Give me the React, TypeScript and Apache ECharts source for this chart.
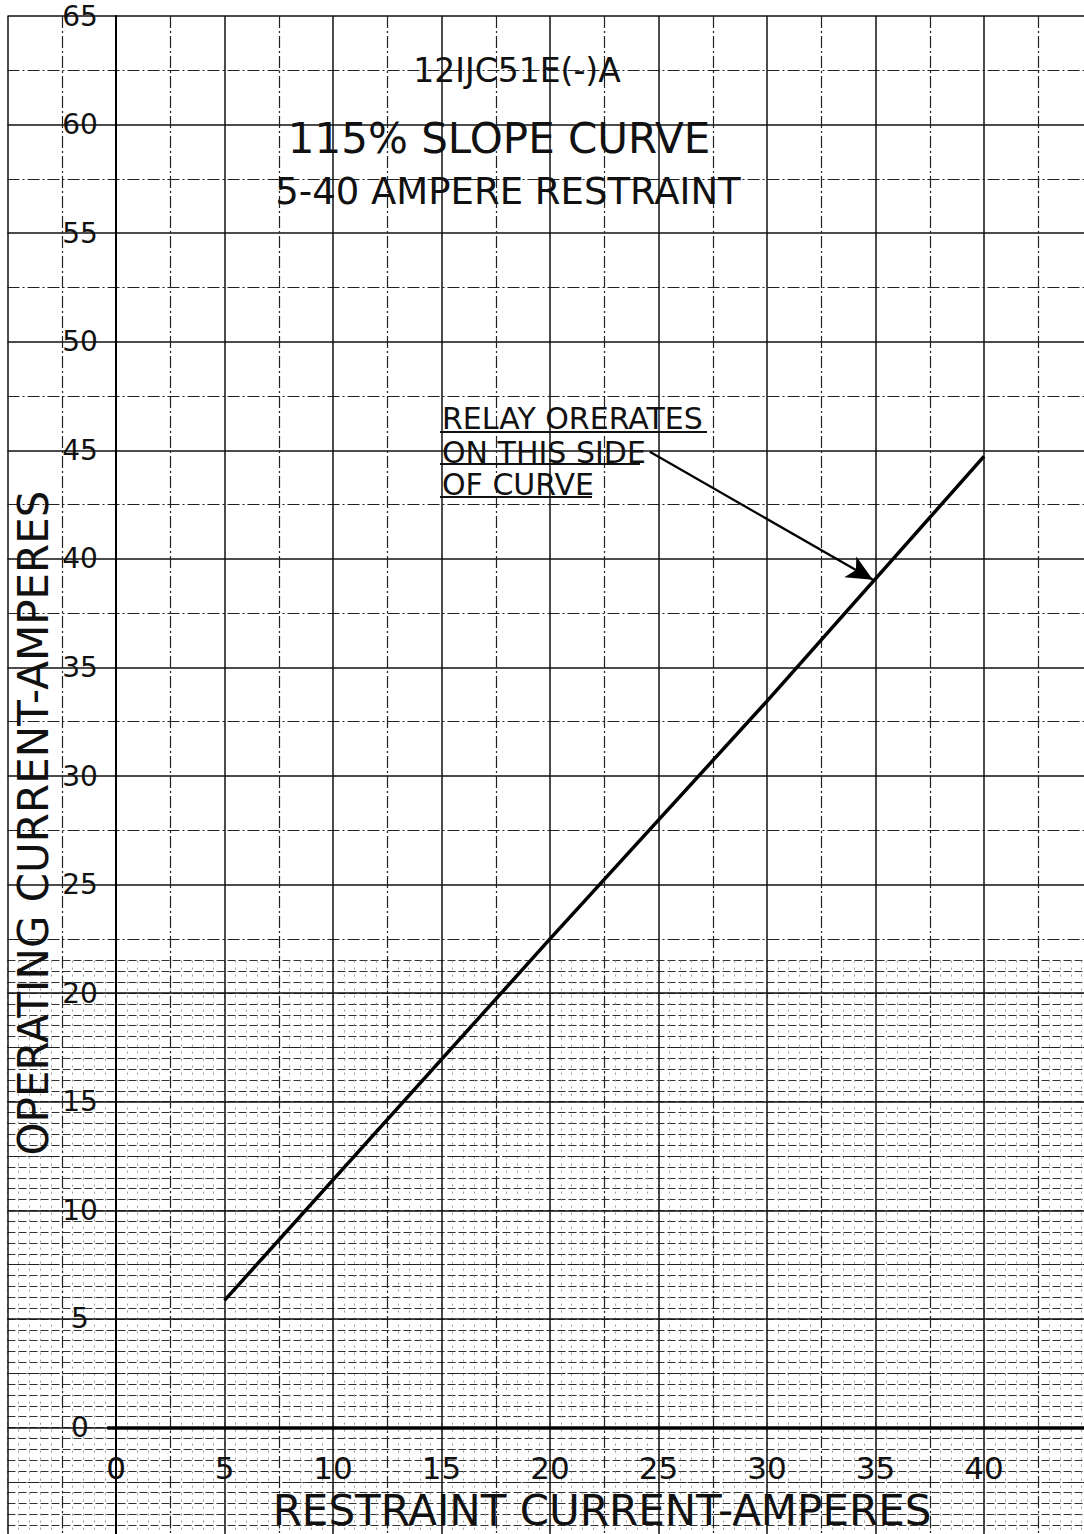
import React, { useEffect, useRef } from "react";
import * as echarts from "echarts";

const FONT = "DejaVu Sans";

const X_TICKS = [0, 5, 10, 15, 20, 25, 30, 35, 40];
const Y_TICKS = [0, 5, 10, 15, 20, 25, 30, 35, 40, 45, 50, 55, 60, 65];

const CURVE_X = [5, 20, 30, 40];
const CURVE_Y = [5.85, 22.5, 33.45, 44.72];

const TITLE_LINES = ["12IJC51E(-)A", "115% SLOPE CURVE", "5-40 AMPERE RESTRAINT"];
const NOTE_LINES = ["RELAY ORERATES", "ON THIS SIDE", "OF CURVE"];
const X_NAME = "RESTRAINT CURRENT-AMPERES";
const Y_NAME = "OPERATING CURRENT-AMPERES";

const ARROW_FROM = [24.6, 44.93];
const ARROW_TO = [34.88, 39.04];

export default function App() {
  const ref = useRef<HTMLDivElement>(null);

  useEffect(() => {
    if (!ref.current) return;
    const chart = echarts.init(ref.current, null, { renderer: "svg" });

    const xFmt = (v: number) => (X_TICKS.indexOf(v) >= 0 ? String(v) : "");
    const yFmt = (v: number) => (Y_TICKS.indexOf(v) >= 0 ? String(v) : "");

    const titleSpecs = [
      { y: 70, x: 517, size: 33 },
      { y: 138, x: 499, size: 42 },
      { y: 191, x: 508, size: 37 },
    ];
    const noteY = [418, 452, 484];
    const underline = [
      { y: 432, x2: 707 },
      { y: 464, x2: 640 },
      { y: 497, x2: 592 },
    ];

    const graphic: any[] = [];
    TITLE_LINES.forEach((t, i) => {
      graphic.push({
        type: "text",
        z: 20,
        x: titleSpecs[i].x,
        y: titleSpecs[i].y,
        style: {
          text: t,
          fill: "#111",
          fontFamily: FONT,
          fontSize: titleSpecs[i].size,
          align: "center",
          verticalAlign: "middle",
          textAlign: "center",
          textVerticalAlign: "middle",
        },
      });
    });
    NOTE_LINES.forEach((t, i) => {
      graphic.push({
        type: "text",
        z: 20,
        x: 442,
        y: noteY[i],
        style: {
          text: t,
          fill: "#111",
          fontFamily: FONT,
          fontSize: 30,
          align: "left",
          verticalAlign: "middle",
          textAlign: "left",
          textVerticalAlign: "middle",
        },
      });
      graphic.push({
        type: "line",
        z: 20,
        shape: { x1: 440, y1: underline[i].y, x2: underline[i].x2, y2: underline[i].y },
        style: { stroke: "#111", lineWidth: 2 },
      });
    });
    graphic.push({
      type: "text",
      z: 20,
      x: 602,
      y: 1510,
      style: {
        text: X_NAME,
        fill: "#111",
        fontFamily: FONT,
        fontSize: 42,
        align: "center",
        verticalAlign: "middle",
        textAlign: "center",
        textVerticalAlign: "middle",
      },
    });
    graphic.push({
      type: "text",
      z: 20,
      x: 33,
      y: 823,
      rotation: Math.PI / 2,
      style: {
        text: Y_NAME,
        fill: "#111",
        fontFamily: FONT,
        fontSize: 42,
        align: "center",
        verticalAlign: "middle",
        textAlign: "center",
        textVerticalAlign: "middle",
      },
    });

    const option: any = {
      animation: false,
      backgroundColor: "#ffffff",
      grid: [
        { left: 7.5, right: -8.5, top: 16, bottom: -2.05, containLabel: false, outerBoundsMode: "none" },
        { left: 7.5, right: -8.5, top: 960.6, bottom: -2.05, containLabel: false, outerBoundsMode: "none" },
      ],
      xAxis: [
        {
          gridIndex: 0,
          type: "value",
          position: "bottom",
          offset: -108.55,
          min: -5,
          max: 45,
          interval: 5,
          z: 3,
          axisLine: { show: false, onZero: false },
          axisTick: { show: false },
          axisLabel: {
            formatter: xFmt,
            margin: 40,
            verticalAlign: "middle",
            fontSize: 31,
            color: "#111",
            fontFamily: FONT,
            hideOverlap: false,
          },
          splitLine: { show: true, lineStyle: { color: "#111", width: 1.5, type: "solid" } },
          minorTick: { show: true, splitNumber: 2, length: 0, lineStyle: { opacity: 0 } },
          minorSplitLine: { show: true, lineStyle: { color: "#222", width: 1.2, type: [12, 3, 2, 3] } },
        },
        {
          gridIndex: 1,
          type: "value",
          min: -5,
          max: 45,
          interval: 0.5,
          z: 1,
          axisLine: { show: false },
          axisTick: { show: false },
          axisLabel: { show: false },
          splitLine: { show: true, lineStyle: { color: "#9a9a9a", width: 1, type: [2, 5] } },
        },
      ],
      yAxis: [
        {
          gridIndex: 0,
          type: "value",
          position: "left",
          offset: -108.5,
          min: -5,
          max: 65,
          interval: 5,
          z: 3,
          axisLine: { show: true, onZero: false, lineStyle: { color: "#000", width: 2 } },
          axisTick: { show: false },
          axisLabel: {
            formatter: yFmt,
            margin: 36,
            align: "center",
            fontSize: 28,
            color: "#111",
            fontFamily: FONT,
          },
          splitLine: { show: true, lineStyle: { color: "#111", width: 1.5, type: "solid" } },
          minorTick: { show: true, splitNumber: 2, length: 0, lineStyle: { opacity: 0 } },
          minorSplitLine: { show: true, lineStyle: { color: "#222", width: 1.2, type: [12, 3, 2, 3] } },
        },
        {
          gridIndex: 1,
          type: "value",
          min: -5,
          max: 21.5,
          interval: 0.5,
          z: 1,
          axisLine: { show: false },
          axisTick: { show: false },
          axisLabel: { show: false },
          splitLine: { show: true, lineStyle: { color: "#333", width: 1, type: [8, 3] } },
        },
      ],
      series: [
        {
          type: "line",
          xAxisIndex: 0,
          yAxisIndex: 0,
          z: 5,
          symbol: "none",
          silent: true,
          data: CURVE_X.map((x, i) => [x, CURVE_Y[i]]),
          lineStyle: { color: "#000", width: 3.5 },
          markLine: {
            silent: true,
            symbol: ["none", "none"],
            label: { show: false },
            lineStyle: { color: "#000", type: "solid", width: 2.2 },
            data: [
              [
                { coord: [-0.4, 0], lineStyle: { width: 3.5, color: "#000", type: "solid" } },
                { coord: [45, 0] },
              ],
              [
                { coord: ARROW_FROM, lineStyle: { width: 2.2, color: "#000", type: "solid" } },
                { coord: ARROW_TO, symbol: "arrow", symbolSize: [18, 26] },
              ],
            ],
          },
        },
      ],
      graphic,
    };

    chart.setOption(option);
    return () => chart.dispose();
  }, []);

  return (
    <div
      ref={ref}
      style={{ position: "absolute", left: 0, top: 0, width: 1084, height: 1534, background: "#fff" }}
    />
  );
}
